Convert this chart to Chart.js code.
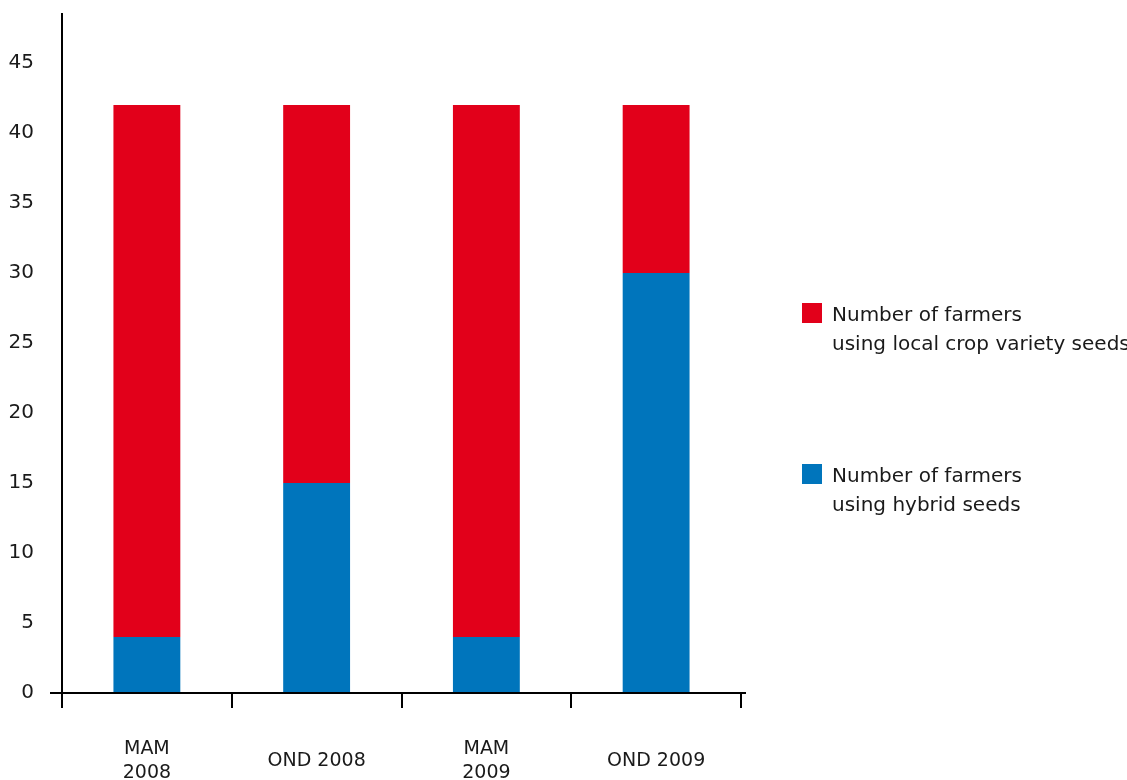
<!DOCTYPE html>
<html>
<head>
<meta charset="utf-8">
<script src="https://cdn.jsdelivr.net/npm/chart.js@4/dist/chart.umd.min.js"></script>
<style>
  html, body { margin: 0; padding: 0; background: #fff; }
  #wrap { position: relative; width: 1127px; height: 780px; overflow: hidden; }
  canvas { position: absolute; left: 0; top: 0; }
  .leg { position: absolute; left: 802px; font-family: "DejaVu Sans", sans-serif; font-size: 20px; line-height: 29px; color: #1a1a1a; }
  .leg .sw { position: absolute; left: 0; top: 3.5px; width: 20px; height: 20px; }
  .leg .tx { position: absolute; left: 30px; top: 0; white-space: nowrap; }
</style>
</head>
<body>
<div id="wrap">
  <canvas id="c" width="1127" height="780"></canvas>
  <div class="leg" id="leg1" style="top:299.5px"><div class="sw" style="background:#e2001a"></div><div class="tx">Number of farmers<br>using local crop variety seeds</div></div>
  <div class="leg" id="leg2" style="top:460.5px"><div class="sw" style="background:#0075bc"></div><div class="tx">Number of farmers<br>using hybrid seeds</div></div>
</div>
<script>
const categories = [["MAM", "2008"], "OND 2008", ["MAM", "2009"], "OND 2009"];
const hybridSeeds = [4, 15, 4, 30];
const localSeeds = [38, 27, 38, 12];
const seriesNames = ["Number of farmers using hybrid seeds", "Number of farmers using local crop variety seeds"];

const axisLine = {
  id: 'axisLine',
  afterDraw(chart) {
    const ctx = chart.ctx;
    const y = chart.scales.y.getPixelForValue(0);
    const x0 = chart.chartArea.left - 12;
    const x1 = chart.chartArea.right + 5;
    ctx.save();
    ctx.strokeStyle = '#000';
    ctx.lineWidth = 2;
    ctx.beginPath();
    ctx.moveTo(x0, y);
    ctx.lineTo(x1, y);
    ctx.stroke();
    ctx.restore();
  }
};

new Chart(document.getElementById('c'), {
  type: 'bar',
  data: {
    labels: categories,
    datasets: [
      { label: seriesNames[0], data: hybridSeeds, backgroundColor: '#0075bc', borderWidth: 0 },
      { label: seriesNames[1], data: localSeeds, backgroundColor: '#e2001a', borderWidth: 0 }
    ]
  },
  options: {
    responsive: false,
    animation: false,
    devicePixelRatio: 1,
    layout: { padding: { top: 14, right: 386, left: 0, bottom: 0 } },
    plugins: { legend: { display: false }, tooltip: { enabled: false } },
    datasets: { bar: { categoryPercentage: 1, barPercentage: 0.394 } },
    scales: {
      x: {
        stacked: true,
        grid: { display: true, offset: true, drawOnChartArea: false, drawTicks: true, tickLength: 15, color: '#000', lineWidth: 2 },
        border: { display: false },
        ticks: {
          color: '#1a1a1a',
          font: { family: 'DejaVu Sans', size: 19, lineHeight: 1.26 },
          padding: 41,
          maxRotation: 0,
          autoSkip: false,
          crossAlign: 'center'
        },
        afterFit(scale) { scale.height = 87; }
      },
      y: {
        stacked: true,
        min: 0,
        max: 48.5,
        grid: { display: true, drawOnChartArea: false, drawTicks: true, tickLength: 28, color: 'rgba(0,0,0,0)' },
        border: { display: true, color: '#000', width: 2 },
        ticks: {
          stepSize: 5,
          includeBounds: false,
          color: '#1a1a1a',
          font: { family: 'DejaVu Sans', size: 20 },
          padding: 0
        },
        afterFit(scale) { scale.width = 62; }
      }
    }
  },
  plugins: [axisLine]
});
</script>
</body>
</html>
